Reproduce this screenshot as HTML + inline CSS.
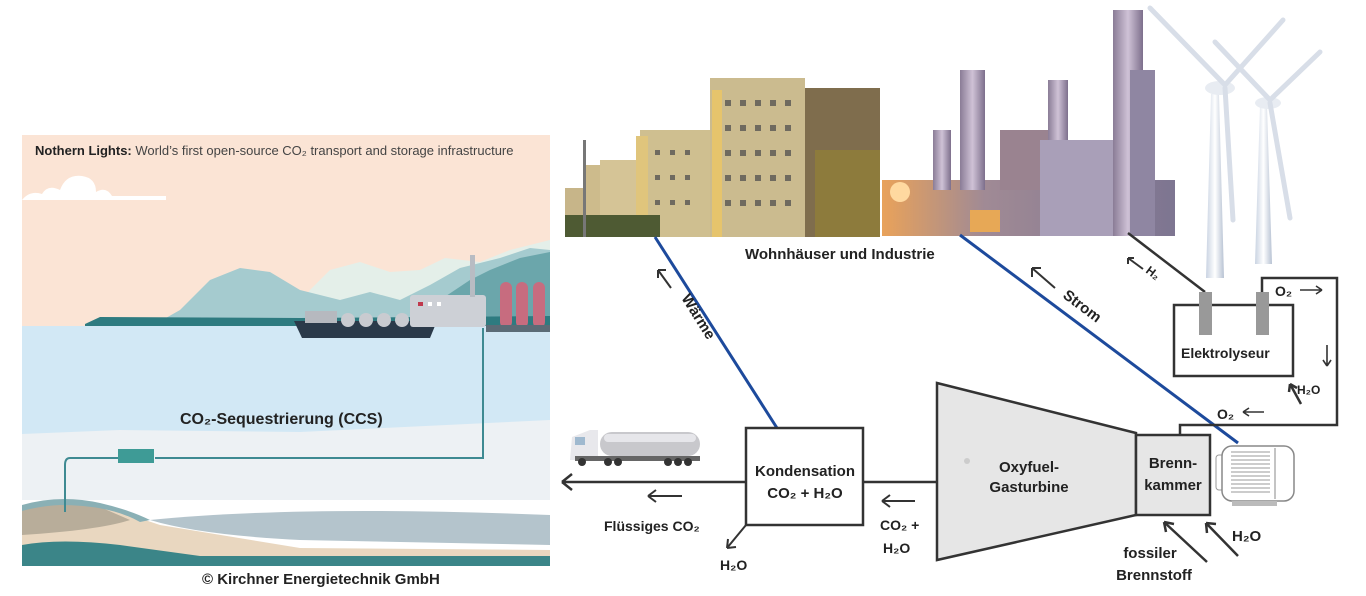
<!DOCTYPE html>
<html><head><meta charset="utf-8"><style>
html,body{margin:0;padding:0;background:#fff}
svg{display:block}
text{font-family:"Liberation Sans","DejaVu Sans",sans-serif}
.b{font-weight:bold;fill:#222}
</style></head><body>
<svg width="1366" height="596" viewBox="0 0 1366 596" xmlns="http://www.w3.org/2000/svg">
<defs>
<linearGradient id="ind" x1="0" y1="0" x2="1" y2="0"><stop offset="0" stop-color="#e9a25a"/><stop offset="0.35" stop-color="#a08a95"/><stop offset="1" stop-color="#7d7591"/></linearGradient>
<linearGradient id="stack" x1="0" x2="1"><stop offset="0" stop-color="#8a7c96"/><stop offset="0.5" stop-color="#cfc2d6"/><stop offset="1" stop-color="#7d6f8c"/></linearGradient>
<linearGradient id="pole" x1="0" x2="1"><stop offset="0" stop-color="#c9d3e2"/><stop offset="0.5" stop-color="#ffffff"/><stop offset="1" stop-color="#b7c2d3"/></linearGradient>
</defs>

<!-- LEFT PANEL -->
<rect x="22" y="135" width="528" height="192" fill="#fbe4d5"/>
<path d="M22 200 q8 -10 20 -6 q6 -10 18 -4 q6 -16 22 -14 q14 2 14 16 q10 -6 16 4 h54 v4 h-144z" fill="#fff"/>
<path d="M280 327 L310 290 L330 270 L360 262 L390 272 L420 270 L445 258 L480 262 L510 250 L550 240 V327Z" fill="#e4efe9"/>
<path d="M150 327 L180 310 L210 280 L240 268 L270 272 L300 290 L340 300 L370 292 L400 300 L430 285 L460 268 L500 258 L530 248 L550 250 V327Z" fill="#a5cbcf"/>
<path d="M420 327 L440 300 L470 280 L490 270 L520 258 L550 252 V327Z" fill="#6ba6ab"/>
<path d="M85 324 L100 317 L300 318 L550 316 V327 H85Z" fill="#2e7b80"/>
<rect x="22" y="326" width="528" height="108" fill="#d2e8f5"/>
<path d="M22 434 L120 430 L300 432 L550 420 V500 H22Z" fill="#edf1f4"/>
<path d="M22 510 Q60 495 100 505 Q130 515 160 525 L300 548 L550 550 V566 H22Z" fill="#e9d7c0"/>
<path d="M22 510 Q60 497 100 507 L130 520 Q100 530 22 535Z" fill="#b8ad9a"/>
<path d="M150 520 Q300 505 550 515 V545 L300 540 Q200 535 150 520Z" fill="#b4c4cc"/>
<path d="M22 505 Q60 494 100 503 Q130 510 150 520 L140 522 Q110 505 60 505 Q40 506 22 511Z" fill="#8ab0b5"/>
<path d="M22 545 Q60 538 120 545 L200 556 L550 556 V566 H22Z" fill="#3b8588"/>
<!-- ship and plant -->
<path d="M294 321 H437 L430 338 H302Z" fill="#2b3a4a"/>
<rect x="305" y="311" width="32" height="12" fill="#b6b9bf"/>
<circle cx="348" cy="320" r="7" fill="#c9cbd0"/><circle cx="366" cy="320" r="7" fill="#c9cbd0"/><circle cx="384" cy="320" r="7" fill="#c9cbd0"/><circle cx="402" cy="320" r="7" fill="#c9cbd0"/>
<rect x="410" y="295" width="76" height="32" rx="3" fill="#cdd0d6"/>
<rect x="470" y="255" width="5" height="42" fill="#b8bcc3"/>
<rect x="418" y="302" width="5" height="4" fill="#c0384d"/>
<rect x="428" y="302" width="4" height="4" fill="#fff"/><rect x="437" y="302" width="4" height="4" fill="#fff"/>
<rect x="500" y="282" width="12" height="46" rx="6" fill="#c76c7f"/>
<rect x="516" y="282" width="12" height="46" rx="6" fill="#c76c7f"/>
<rect x="533" y="282" width="12" height="46" rx="6" fill="#c76c7f"/>
<rect x="486" y="325" width="64" height="7" fill="#5b6b76"/>
<!-- pipeline -->
<path d="M483 328 V458 H155 M132 458 H70 Q65 458 65 465 V512" fill="none" stroke="#3e8a92" stroke-width="2"/>
<rect x="118" y="449" width="36" height="14" fill="#3e9b96"/>
<text x="35" y="155" font-size="13" fill="#444"><tspan font-weight="bold" fill="#222">Nothern Lights:</tspan> World’s first open-source CO₂ transport and storage infrastructure</text>
<text x="180" y="424" font-size="16" class="b">CO₂-Sequestrierung (CCS)</text>
<text x="202" y="584" font-size="15" class="b">© Kirchner Energietechnik GmbH</text>

<!-- BUILDINGS PHOTO -->
<rect x="565" y="188" width="30" height="48" fill="#c7b589"/>
<rect x="585" y="165" width="30" height="72" fill="#cdbb8c"/>
<rect x="600" y="160" width="40" height="77" fill="#d5c496"/>
<rect x="640" y="130" width="70" height="107" fill="#cfbf90"/>
<rect x="636" y="136" width="12" height="100" fill="#e0c57c"/>
<rect x="710" y="78" width="95" height="159" fill="#cbbb8f"/>
<rect x="712" y="90" width="10" height="147" fill="#e6c46c"/>
<rect x="805" y="88" width="75" height="149" fill="#7f6d4d"/>
<rect x="815" y="150" width="65" height="87" fill="#8d7b3c"/>
<rect x="565" y="215" width="95" height="22" fill="#4e5a33"/>
<rect x="583" y="140" width="3" height="97" fill="#777"/>
<g fill="#6f6a5f">
<rect x="725" y="100" width="6" height="6"/><rect x="740" y="100" width="6" height="6"/><rect x="755" y="100" width="6" height="6"/><rect x="770" y="100" width="6" height="6"/><rect x="785" y="100" width="6" height="6"/>
<rect x="725" y="125" width="6" height="6"/><rect x="740" y="125" width="6" height="6"/><rect x="755" y="125" width="6" height="6"/><rect x="770" y="125" width="6" height="6"/><rect x="785" y="125" width="6" height="6"/>
<rect x="725" y="150" width="6" height="6"/><rect x="740" y="150" width="6" height="6"/><rect x="755" y="150" width="6" height="6"/><rect x="770" y="150" width="6" height="6"/><rect x="785" y="150" width="6" height="6"/>
<rect x="725" y="175" width="6" height="6"/><rect x="740" y="175" width="6" height="6"/><rect x="755" y="175" width="6" height="6"/><rect x="770" y="175" width="6" height="6"/><rect x="785" y="175" width="6" height="6"/>
<rect x="725" y="200" width="6" height="6"/><rect x="740" y="200" width="6" height="6"/><rect x="755" y="200" width="6" height="6"/><rect x="770" y="200" width="6" height="6"/><rect x="785" y="200" width="6" height="6"/>
<rect x="655" y="150" width="5" height="5"/><rect x="670" y="150" width="5" height="5"/><rect x="685" y="150" width="5" height="5"/>
<rect x="655" y="175" width="5" height="5"/><rect x="670" y="175" width="5" height="5"/><rect x="685" y="175" width="5" height="5"/>
<rect x="655" y="200" width="5" height="5"/><rect x="670" y="200" width="5" height="5"/><rect x="685" y="200" width="5" height="5"/>
</g>

<!-- INDUSTRY PHOTO -->
<rect x="882" y="180" width="293" height="56" fill="url(#ind)"/>
<rect x="933" y="130" width="18" height="60" fill="url(#stack)"/>
<rect x="960" y="70" width="25" height="120" fill="url(#stack)"/>
<rect x="1000" y="130" width="50" height="60" fill="#9a8390"/>
<rect x="1048" y="80" width="20" height="110" fill="url(#stack)"/>
<rect x="1040" y="140" width="95" height="96" fill="#a99fb8"/>
<rect x="1113" y="10" width="30" height="226" fill="url(#stack)"/>
<rect x="1130" y="70" width="25" height="166" fill="#8f86a2"/>
<circle cx="900" cy="192" r="10" fill="#ffd9a0"/>
<rect x="970" y="210" width="30" height="22" fill="#e7a856"/>

<!-- WIND TURBINES -->
<path d="M1206 278 L1211 94 L1219 94 L1224 278Z" fill="url(#pole)"/>
<path d="M1255 264 L1260 106 L1267 106 L1272 264Z" fill="url(#pole)"/>
<ellipse cx="1220" cy="88" rx="15" ry="7" fill="#e8ecf2"/>
<ellipse cx="1268" cy="103" rx="13" ry="6" fill="#e8ecf2"/>
<g stroke="#d8dee8" stroke-width="5" stroke-linecap="round" fill="none">
<path d="M1225 85 L1150 8 M1225 85 L1283 20 M1225 88 L1233 220"/>
<path d="M1270 100 L1215 42 M1270 100 L1320 52 M1270 103 L1290 218"/>
</g>

<text x="745" y="259" font-size="15" class="b">Wohnhäuser und Industrie</text>

<!-- connectors -->
<line x1="655" y1="237" x2="777" y2="428" stroke="#1d4a9c" stroke-width="3"/>
<line x1="960" y1="235" x2="1238" y2="443" stroke="#1d4a9c" stroke-width="3"/>
<line x1="1128" y1="233" x2="1205" y2="292" stroke="#333" stroke-width="2.5"/>
<g stroke="#333" stroke-width="2" fill="none">
<path d="M671 288 L658 270 M658 270 v8 M658 270 h8"/>
<path d="M1055 288 L1032 268 M1032 268 v9 M1032 268 h9"/>
<path d="M1143 269 L1128 258 M1128 258 v6 M1128 258 h6"/>
</g>
<text transform="translate(681,298) rotate(58)" font-size="15" class="b">Wärme</text>
<text transform="translate(1062,297) rotate(37)" font-size="15" class="b">Strom</text>
<text transform="translate(1145,272) rotate(37)" font-size="12" class="b">H₂</text>

<!-- Elektrolyseur -->
<rect x="1174" y="305" width="119" height="71" fill="#fff" stroke="#333" stroke-width="2.5"/>
<rect x="1199" y="292" width="13" height="43" fill="#999"/>
<rect x="1256" y="292" width="13" height="43" fill="#999"/>
<text x="1181" y="358" font-size="14" class="b">Elektrolyseur</text>
<path d="M1262 292 V278 H1337 V425 H1180 V435" fill="none" stroke="#333" stroke-width="2.5"/>
<text x="1275" y="296" font-size="14" class="b">O₂</text>
<g stroke="#333" stroke-width="1.6" fill="none">
<path d="M1300 290 H1322 M1322 290 l-6 -4 M1322 290 l-6 4"/>
<path d="M1327 345 V366 M1327 366 l-4 -6 M1327 366 l4 -6"/>
<path d="M1264 412 H1243 M1243 412 l6 -4 M1243 412 l6 4"/>
</g>
<path d="M1301 404 L1290 384 M1290 384 l-1 8 M1290 384 l7 4" stroke="#333" stroke-width="2.5" fill="none"/>
<text x="1297" y="394" font-size="12" class="b">H₂O</text>
<text x="1217" y="419" font-size="14" class="b">O₂</text>

<!-- Turbine -->
<path d="M937 383 L1136 433 L1136 515 L937 560Z" fill="#e6e6e6" stroke="#333" stroke-width="2.5"/>
<rect x="1136" y="435" width="74" height="80" fill="#e6e6e6" stroke="#333" stroke-width="2.5"/>
<circle cx="967" cy="461" r="3" fill="#ccc"/>
<text x="1029" y="472" font-size="15" class="b" text-anchor="middle">Oxyfuel-</text>
<text x="1029" y="492" font-size="15" class="b" text-anchor="middle">Gasturbine</text>
<text x="1173" y="468" font-size="15" class="b" text-anchor="middle">Brenn-</text>
<text x="1173" y="490" font-size="15" class="b" text-anchor="middle">kammer</text>

<!-- motor -->
<rect x="1216" y="455" width="8" height="35" rx="3" fill="#fff" stroke="#999"/>
<rect x="1222" y="446" width="72" height="55" rx="10" fill="#fff" stroke="#888" stroke-width="1.5"/>
<line x1="1275" y1="448" x2="1275" y2="499" stroke="#888"/>
<g stroke="#999" stroke-width="1"><path d="M1231 452 H1270 M1231 456 H1270 M1231 460 H1270 M1231 464 H1270 M1231 468 H1270 M1231 472 H1270 M1231 476 H1270 M1231 480 H1270 M1231 484 H1270 M1231 488 H1270 M1231 492 H1270"/></g>
<rect x="1232" y="501" width="45" height="5" fill="#bbb"/>

<!-- inputs -->
<g stroke="#333" stroke-width="2.5" fill="none">
<path d="M1207 562 L1164 522 M1164 522 l2 10 M1164 522 l10 2"/>
<path d="M1238 556 L1206 523 M1206 523 l1 10 M1206 523 l10 1"/>
</g>
<text x="1232" y="541" font-size="15" class="b">H₂O</text>
<text x="1150" y="558" font-size="15" class="b" text-anchor="middle">fossiler</text>
<text x="1154" y="580" font-size="15" class="b" text-anchor="middle">Brennstoff</text>

<!-- Kondensation -->
<line x1="863" y1="482" x2="937" y2="482" stroke="#333" stroke-width="2.5"/>
<rect x="746" y="428" width="117" height="97" fill="#fff" stroke="#333" stroke-width="2.5"/>
<text x="805" y="476" font-size="15" class="b" text-anchor="middle">Kondensation</text>
<text x="805" y="498" font-size="15" class="b" text-anchor="middle">CO₂ + H₂O</text>
<path d="M915 501 H882 M882 501 l8 -6 M882 501 l8 6" stroke="#333" stroke-width="2" fill="none"/>
<text x="880" y="530" font-size="14" class="b">CO₂ +</text>
<text x="883" y="553" font-size="14" class="b">H₂O</text>
<path d="M746 482 H562 M562 482 l10 -8 M562 482 l10 8" stroke="#333" stroke-width="2.5" fill="none"/>
<path d="M682 496 H648 M648 496 l8 -6 M648 496 l8 6" stroke="#333" stroke-width="2" fill="none"/>
<text x="604" y="531" font-size="14" class="b">Flüssiges CO₂</text>
<path d="M746 525 L727 548 M727 548 l1 -9 M727 548 l9 -1" stroke="#333" stroke-width="2" fill="none"/>
<text x="720" y="570" font-size="14" class="b">H₂O</text>

<!-- truck -->
<rect x="600" y="432" width="100" height="24" rx="12" fill="#c8c8cc"/>
<rect x="604" y="434" width="92" height="8" rx="4" fill="#e6e6ea"/>
<path d="M572 437 L590 430 H598 V460 H570Z" fill="#e8e8ec"/>
<rect x="575" y="437" width="10" height="8" fill="#9fb9cf"/>
<rect x="575" y="456" width="125" height="5" fill="#666"/>
<g fill="#333"><circle cx="582" cy="462" r="4"/><circle cx="608" cy="462" r="4"/><circle cx="618" cy="462" r="4"/><circle cx="668" cy="462" r="4"/><circle cx="678" cy="462" r="4"/><circle cx="688" cy="462" r="4"/></g>
</svg>
</body></html>
